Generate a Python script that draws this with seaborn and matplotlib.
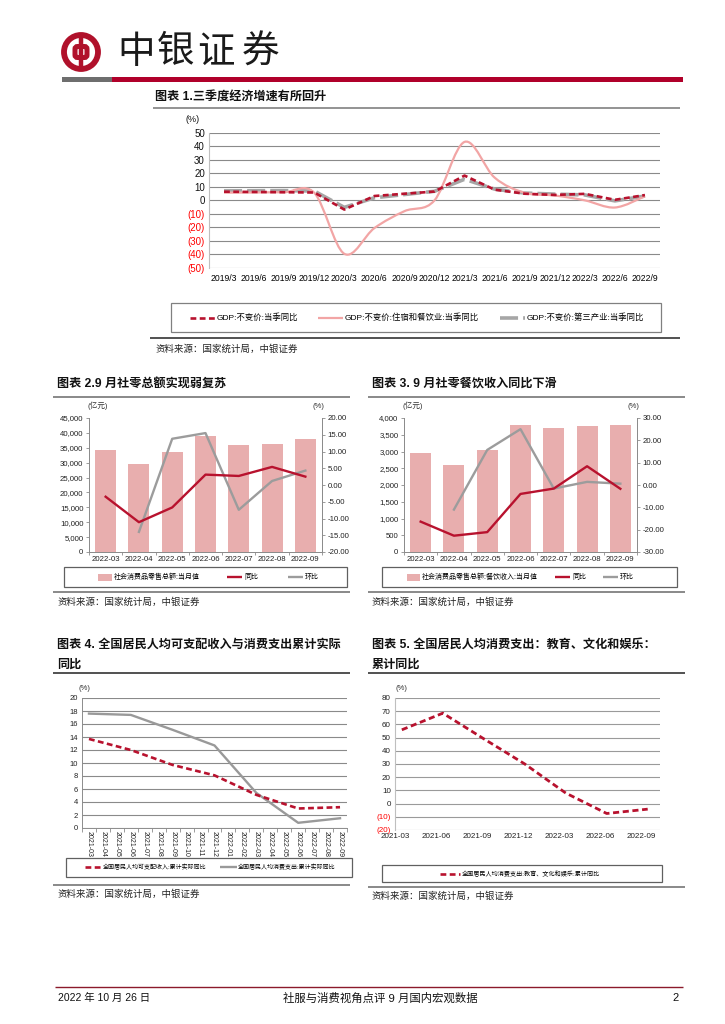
import numpy as np
import matplotlib
matplotlib.use('Agg')
import matplotlib.pyplot as plt
import seaborn as sns
from matplotlib.patches import Rectangle, Circle, FancyBboxPatch, PathPatch
from matplotlib.path import Path
from matplotlib.lines import Line2D

plt.rcParams['font.family'] = ['Liberation Sans', 'Noto Sans CJK SC', 'DejaVu Sans']
plt.rcParams['axes.unicode_minus'] = False

# ---------------- data ----------------
q_labels = ['2019/3', '2019/6', '2019/9', '2019/12', '2020/3', '2020/6', '2020/9', '2020/12',
            '2021/3', '2021/6', '2021/9', '2021/12', '2022/3', '2022/6', '2022/9']
gdp_yoy = [6.4, 6.2, 6.0, 5.8, -6.8, 3.2, 4.9, 6.5, 18.3, 7.9, 4.9, 4.0, 4.8, 0.4, 3.9]
catering_gdp_yoy = [5.7, 5.8, 6.0, 5.6, -39.5, -20.5, -8.0, 0.0, 43.2, 16.8, 5.6, 3.6, 0.0, -5.3, 3.0]
tertiary_gdp_yoy = [7.0, 7.1, 7.2, 6.9, -5.2, 1.9, 4.3, 6.7, 15.6, 8.3, 5.4, 4.6, 4.0, -0.4, 3.2]

m_labels = ['2022-03', '2022-04', '2022-05', '2022-06', '2022-07', '2022-08', '2022-09']
retail_total = [34150, 29450, 33700, 38950, 35850, 36400, 37800]
retail_yoy = [-3.5, -11.1, -6.7, 3.1, 2.7, 5.4, 2.5]
retail_mom = [np.nan, -14.0, 13.8, 15.5, -7.4, 1.2, 4.3]

catering_rev = [2950, 2610, 3030, 3780, 3690, 3750, 3780]
catering_yoy = [-16.4, -22.7, -21.1, -4.0, -1.6, 8.4, -1.7]
catering_mom = [np.nan, -11.0, 15.7, 25.0, -1.6, 1.4, 0.6]

month_axis = ['2021-03', '2021-04', '2021-05', '2021-06', '2021-07', '2021-08', '2021-09', '2021-10',
              '2021-11', '2021-12', '2022-01', '2022-02', '2022-03', '2022-04', '2022-05', '2022-06',
              '2022-07', '2022-08', '2022-09']
cum_labels = ['2021-03', '2021-06', '2021-09', '2021-12', '2022-03', '2022-06', '2022-09']
income_real_yoy = [13.7, 12.0, 9.7, 8.1, 5.1, 3.0, 3.2]
consume_real_yoy = [17.6, 17.4, 15.1, 12.7, 5.4, 0.8, 1.5]
edu_culture_yoy = [55.9, 68.5, 49.1, 30.0, 8.0, -7.5, -4.2]

# ---------------- style ----------------
RED = '#B8122E'
PINK_LINE = '#F2A5A5'
GRAY_LINE = '#9C9C9C'
BAR = '#E8AEAE'
NEG = '#FF0000'

W, H = 725, 1024
fig = plt.figure(figsize=(W / 100, H / 100), dpi=100)
fig.patch.set_facecolor('white')


def fx(x):
    return x / W


def fy(y):
    return 1 - y / H


def add_ax(x0, y0, x1, y1):
    return fig.add_axes([fx(x0), fy(y1), (x1 - x0) / W, (y1 - y0) / H])


def ftext(x, y, s, **kw):
    kw.setdefault('va', 'center')
    return fig.text(fx(x), fy(y), s, **kw)


def fline(x0, x1, y, color='#7f7f7f', lw=1.0, ls='-'):
    fig.add_artist(Line2D([fx(x0), fx(x1)], [fy(y), fy(y)], color=color, lw=lw, ls=ls,
                          transform=fig.transFigure, solid_capstyle='butt'))


def frect(x0, y0, x1, y1, fc='none', ec='#7f7f7f', lw=0.8):
    fig.add_artist(Rectangle((fx(x0), fy(y1)), (x1 - x0) / W, (y1 - y0) / H, fc=fc, ec=ec,
                             lw=lw, transform=fig.transFigure))


def smooth_path(xs, ys):
    P = np.column_stack([xs, ys]).astype(float)
    n = len(P)
    verts = [P[0]]
    codes = [Path.MOVETO]
    for i in range(n - 1):
        p0 = P[i - 1] if i > 0 else P[i]
        p1, p2 = P[i], P[i + 1]
        p3 = P[i + 2] if i + 2 < n else P[i + 1]
        verts += [p1 + (p2 - p0) / 6, p2 - (p3 - p1) / 6, p2]
        codes += [Path.CURVE4] * 3
    return Path(verts, codes)


def title(x, y, s):
    ftext(x, y, s, fontsize=8.7, fontweight='bold', color='#111111', ha='left')


def source(x, y):
    ftext(x, y, '资料来源：国家统计局，中银证券', fontsize=6.8, color='#222222', ha='left')


# ---------------- header ----------------
logo = add_ax(60, 31, 102, 73)
logo.set_xlim(-21, 21)
logo.set_ylim(-21, 21)
logo.set_aspect('equal')
logo.axis('off')
LOGO = '#B0112B'
logo.add_patch(Circle((0, 0), 17.0, fill=False, ec=LOGO, lw=4.2))
logo.plot([0, 0], [-19, 19], color=LOGO, lw=3.2, solid_capstyle='butt')
logo.add_patch(FancyBboxPatch((-6, -5.5), 12, 11, boxstyle='round,pad=0,rounding_size=2.5',
                              fc='white', ec=LOGO, lw=3.6))
for cx, ch in zip([136, 176, 216, 261], '中银证券'):
    ftext(cx, 52, ch, fontsize=27, ha='center', color='#1a1a1a', family=['Noto Sans CJK SC'])
frect(62, 77, 112, 82, fc='#6E6E6E', ec='none', lw=0)
frect(112, 77, 683, 82, fc='#B0002A', ec='none', lw=0)

# ---------------- chart 1 ----------------
title(155, 97, '图表 1.三季度经济增速有所回升')
fline(153, 680, 108, color='#808080', lw=1.2)
ax1 = add_ax(209, 132.7, 660, 268)
x1 = np.arange(len(q_labels))
ticks1 = list(range(-50, 51, 10))
for v in ticks1:
    ax1.axhline(v, color='#8A8A8A', lw=0.8, zorder=0)
sns.lineplot(x=x1, y=tertiary_gdp_yoy, ax=ax1, color='#A6A6A6', lw=2.6,
             linestyle=(0, (5, 1.4)), zorder=2)
ax1.add_patch(PathPatch(smooth_path(x1, catering_gdp_yoy), fill=False, ec=PINK_LINE, lw=1.6, zorder=3))
sns.lineplot(x=x1, y=gdp_yoy, ax=ax1, color=RED, lw=1.9, linestyle=(0, (2.2, 1.3)), zorder=4)
ax1.set_xlim(-0.5, len(q_labels) - 0.5)
ax1.set_ylim(-50, 50)
ax1.set_xticks(x1)
ax1.set_xticklabels(q_labels)
ax1.set_yticks(ticks1)
ax1.set_yticklabels([f'({abs(v)})' if v < 0 else str(v) for v in ticks1])
for lab, v in zip(ax1.get_yticklabels(), ticks1):
    lab.set_color(NEG if v < 0 else '#111111')
ax1.tick_params(axis='y', length=0, labelsize=7, pad=3)
ax1.tick_params(axis='x', length=0, labelsize=6.2, pad=4)
for s in ['top', 'right', 'bottom']:
    ax1.spines[s].set_visible(False)
ax1.spines['left'].set_color('#BFBFBF')
ax1.spines['left'].set_linewidth(0.8)
ax1.set_xlabel('')
ax1.set_ylabel('')
ftext(193, 120, '(%)', fontsize=6.5, ha='center', color='#111111')

frect(171, 303, 661, 332, ec='#808080', lw=0.9)
fline(190, 215, 318, color=RED, lw=1.9, ls=(0, (2.2, 1.3)))
ftext(217, 318, 'GDP:不变价:当季同比', fontsize=6, ha='left')
fline(318, 343, 318, color=PINK_LINE, lw=1.6)
ftext(345, 318, 'GDP:不变价:住宿和餐饮业:当季同比', fontsize=6, ha='left')
fline(500, 525, 318, color='#A6A6A6', lw=2.6, ls=(0, (5, 1.4)))
ftext(527, 318, 'GDP:不变价:第三产业:当季同比', fontsize=6, ha='left')
fline(150, 680, 338, color='#222222', lw=1.1)
source(155, 349)


# ---------------- charts 2 & 3 ----------------
def combo(px, cats, bars, yoy, mom, lmax, lstep, rmin, rmax, rstep):
    ax = add_ax(*px)
    sns.barplot(x=cats, y=bars, ax=ax, color=BAR, width=0.63, saturation=1, zorder=1)
    ax.set_ylim(0, lmax)
    lt = np.arange(0, lmax + 1, lstep)
    ax.set_yticks(lt)
    ax.set_yticklabels([f'{int(v):,}' for v in lt])
    ax.set_xlabel('')
    ax.set_ylabel('')
    ax2 = ax.twinx()
    xi = np.arange(len(cats))
    yoy_a = np.array(yoy, dtype=float)
    mom_a = np.array(mom, dtype=float)
    ok = ~np.isnan(mom_a)
    sns.lineplot(x=xi[ok], y=mom_a[ok], ax=ax2, color=GRAY_LINE, lw=1.7)
    sns.lineplot(x=xi, y=yoy_a, ax=ax2, color=RED, lw=1.7)
    ax2.set_ylim(rmin, rmax)
    rt = np.arange(rmin, rmax + 0.1, rstep)
    ax2.set_yticks(rt)
    ax2.set_yticklabels([f'{v:.2f}' for v in rt])
    ax2.set_ylabel('')
    ax.set_xlim(-0.5, len(cats) - 0.5)
    for a in (ax, ax2):
        a.spines['top'].set_visible(False)
        for s in ['left', 'right', 'bottom']:
            a.spines[s].set_color('#8C8C8C')
            a.spines[s].set_linewidth(0.7)
        a.tick_params(axis='y', length=2.5, width=0.6, color='#8C8C8C', labelsize=5.6,
                      labelcolor='#222222', pad=1.5)
    ax.tick_params(axis='x', length=0, labelsize=5.6, labelcolor='#222222', pad=3)
    ax.set_xticks(np.arange(len(cats) + 1) - 0.5, minor=True)
    ax.tick_params(axis='x', which='minor', length=2.5, width=0.6, color='#8C8C8C')
    return ax


title(57, 384, '图表 2.9 月社零总额实现弱复苏')
fline(53, 350, 397, color='#808080', lw=1.3)
combo((89, 418, 322, 552), m_labels, retail_total, retail_yoy, retail_mom,
      45000, 5000, -20, 20, 5)
ftext(98, 406, '(亿元)', fontsize=5.5, ha='center', color='#333333')
ftext(318, 406, '(%)', fontsize=5.5, ha='center', color='#333333')
frect(64, 567, 347, 587, ec='#606060', lw=0.9)
frect(98, 573.5, 112, 580.5, fc=BAR, ec='none', lw=0)
ftext(114, 577, '社会消费品零售总额:当月值', fontsize=5, ha='left')
fline(227, 242, 577, color=RED, lw=1.7)
ftext(244, 577, '同比', fontsize=5, ha='left')
fline(288, 303, 577, color=GRAY_LINE, lw=1.7)
ftext(305, 577, '环比', fontsize=5, ha='left')
fline(53, 350, 592, color='#808080', lw=1.3)
source(57, 602)

title(372, 384, '图表 3. 9 月社零餐饮收入同比下滑')
fline(368, 685, 397, color='#808080', lw=1.3)
combo((404, 418, 637, 552), m_labels, catering_rev, catering_yoy, catering_mom,
      4000, 500, -30, 30, 10)
ftext(413, 406, '(亿元)', fontsize=5.5, ha='center', color='#333333')
ftext(633, 406, '(%)', fontsize=5.5, ha='center', color='#333333')
frect(382, 567, 677, 587, ec='#606060', lw=0.9)
frect(407, 573.5, 420, 580.5, fc=BAR, ec='none', lw=0)
ftext(422, 577, '社会消费品零售总额:餐饮收入:当月值', fontsize=5, ha='left')
fline(555, 570, 577, color=RED, lw=1.7)
ftext(572, 577, '同比', fontsize=5, ha='left')
fline(603, 618, 577, color=GRAY_LINE, lw=1.7)
ftext(620, 577, '环比', fontsize=5, ha='left')
fline(368, 685, 592, color='#808080', lw=1.3)
source(372, 602)

# ---------------- chart 4 ----------------
title(57, 645, '图表 4. 全国居民人均可支配收入与消费支出累计实际')
title(57, 665, '同比')
fline(53, 350, 673, color='#333333', lw=1.2)
ax4 = add_ax(82, 698, 347, 828)
pos4 = np.array([month_axis.index(m) for m in cum_labels])
ticks4 = list(range(0, 21, 2))
for v in ticks4:
    ax4.axhline(v, color='#8A8A8A', lw=0.8, zorder=0)
sns.lineplot(x=pos4, y=consume_real_yoy, ax=ax4, color='#999999', lw=1.7, zorder=2)
sns.lineplot(x=pos4, y=income_real_yoy, ax=ax4, color=RED, lw=1.9, linestyle=(0, (2.2, 1.3)), zorder=3)
ax4.set_xlim(-0.5, len(month_axis) - 0.5)
ax4.set_ylim(0, 20)
ax4.set_yticks(ticks4)
ax4.set_xticks(np.arange(len(month_axis)))
ax4.set_xticklabels(month_axis, rotation=270)
ax4.set_xticks(np.arange(len(month_axis) + 1) - 0.5, minor=True)
ax4.tick_params(axis='x', which='major', length=0, labelsize=5, pad=2, labelcolor='#222222')
ax4.tick_params(axis='x', which='minor', length=3, width=0.6, color='#8C8C8C')
ax4.tick_params(axis='y', length=0, labelsize=5.5, labelcolor='#222222', pad=3)
for s in ['top', 'right']:
    ax4.spines[s].set_visible(False)
for s in ['left', 'bottom']:
    ax4.spines[s].set_color('#8C8C8C')
    ax4.spines[s].set_linewidth(0.7)
ax4.set_xlabel('')
ax4.set_ylabel('')
ftext(84, 689, '(%)', fontsize=5.5, ha='center', color='#333333')
frect(66, 858, 352, 877, ec='#606060', lw=0.9)
fline(85, 102, 867, color=RED, lw=1.9, ls=(0, (2.2, 1.3)))
ftext(103, 867, '全国居民人均可支配收入:累计实际同比', fontsize=4.3, ha='left')
fline(220, 237, 867, color='#999999', lw=1.7)
ftext(238, 867, '全国居民人均消费支出:累计实际同比', fontsize=4.3, ha='left')
fline(53, 350, 885, color='#808080', lw=1.3)
source(57, 894)

# ---------------- chart 5 ----------------
title(372, 645, '图表 5. 全国居民人均消费支出：教育、文化和娱乐：')
title(372, 665, '累计同比')
fline(368, 685, 673, color='#333333', lw=1.2)
ax5 = add_ax(395, 698, 660, 830)
pos5 = np.array([month_axis.index(m) for m in cum_labels])
ticks5 = list(range(-20, 81, 10))
for v in ticks5:
    ax5.axhline(v, color='#9A9A9A', lw=0.8, zorder=0)
sns.lineplot(x=pos5, y=edu_culture_yoy, ax=ax5, color=RED, lw=2.0, linestyle=(0, (2.2, 1.3)), zorder=3)
ax5.set_xlim(-0.5, 18.9)
ax5.set_ylim(-20, 80)
ax5.set_yticks(ticks5)
ax5.set_yticklabels([f'({abs(v)})' if v < 0 else str(v) for v in ticks5])
for lab, v in zip(ax5.get_yticklabels(), ticks5):
    lab.set_color(NEG if v < 0 else '#222222')
ax5.set_xticks(pos5 - 0.5)
ax5.set_xticklabels(cum_labels)
ax5.tick_params(axis='x', length=0, labelsize=5.8, pad=2, labelcolor='#222222')
ax5.tick_params(axis='y', length=0, labelsize=5.8, pad=3)
for s in ['top', 'right', 'bottom']:
    ax5.spines[s].set_visible(False)
ax5.spines['left'].set_color('#BFBFBF')
ax5.spines['left'].set_linewidth(0.8)
ax5.set_xlabel('')
ax5.set_ylabel('')
ftext(401, 689, '(%)', fontsize=5.5, ha='center', color='#333333')
frect(382, 865, 662, 882, ec='#606060', lw=0.9)
fline(440, 460, 874, color=RED, lw=1.9, ls=(0, (2.2, 1.3)))
ftext(462, 874, '全国居民人均消费支出:教育、文化和娱乐:累计同比', fontsize=4.4, ha='left')
fline(368, 685, 887, color='#808080', lw=1.3)
source(372, 896)

# ---------------- footer ----------------
fline(55, 683, 987, color='#8B1A2B', lw=1.0)
ftext(58, 998, '2022 年 10 月 26 日', fontsize=7.5, ha='left', color='#111111')
ftext(380, 998, '社服与消费视角点评 9 月国内宏观数据', fontsize=8.2, ha='center', color='#111111')
ftext(676, 998, '2', fontsize=8, ha='center', color='#111111')

fig.savefig('out.png', dpi=100, facecolor='white')
